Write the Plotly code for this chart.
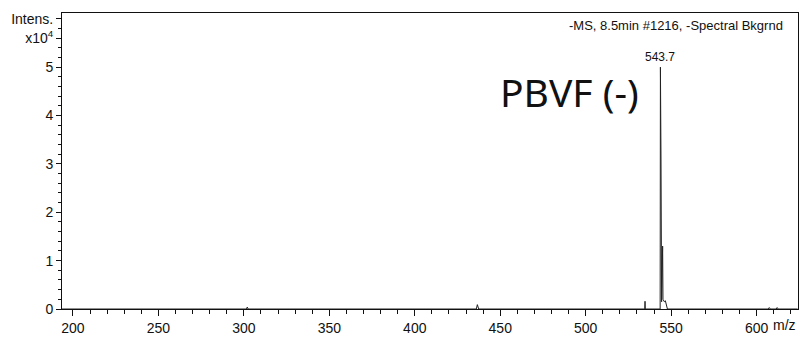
import plotly.graph_objects as go

# Spectrum profile (m/z vs intensity in units of 10^4)
mz = [193.6, 301.5, 302.0, 302.5, 436.0, 436.6, 437.4, 534.55, 534.7, 534.85,
      543.55, 543.7, 543.9, 544.05, 544.4, 545.0, 545.2, 546.0, 546.6, 547.2, 547.8,
      606.8, 607.4, 608.0, 611.4, 612.0, 612.6, 624.0]
intensity = [0, 0, 0.04, 0, 0, 0.09, 0, 0, 0.16, 0,
             0, 5.0, 4.4, 3.1, 0.15, 1.3, 0.2, 0.15, 0.17, 0.05, 0,
             0, 0.03, 0, 0, 0.03, 0, 0]

x_range = [193.6, 624.2]
y_range = [0, 6.12]
x_ticks = [200, 250, 300, 350, 400, 450, 500, 550, 600]
y_tickvals = [0, 1, 2, 3, 4, 5, 5.6, 6.0]
y_ticktext = ["0", "1", "2", "3", "4", "5", "x10<sup>4</sup>", "Intens."]

peak_label = "543.7"
peak_mz = 543.7
peak_int = 5.0
title_text = "-MS, 8.5min #1216, -Spectral Bkgrnd"
sample_text = "PBVF (-)"

FONT = "Liberation Sans, Arial, sans-serif"

fig = go.Figure()
fig.add_trace(go.Scatter(x=mz, y=intensity, mode="lines",
                         line=dict(color="#222222", width=1),
                         hoverinfo="x+y", showlegend=False))

fig.add_annotation(x=peak_mz, y=peak_int, text=peak_label, showarrow=False,
                   yshift=1, font=dict(family=FONT, size=12, color="#111"),
                   xanchor="center", yanchor="bottom")
fig.add_annotation(x=0.982, y=0.99, xref="paper", yref="paper", text=title_text,
                   showarrow=False, xanchor="right", yanchor="top",
                   font=dict(family=FONT, size=13, color="#111"))
fig.add_annotation(x=0.689, y=0.735, xref="paper", yref="paper", text=sample_text,
                   showarrow=False, xanchor="center", yanchor="middle",
                   font=dict(family="Noto Sans, Open Sans, sans-serif", size=39, color="#111"))
fig.add_annotation(x=1.0, y=0, xref="paper", yref="paper", text="m/z",
                   showarrow=False, xanchor="right", yanchor="middle", yshift=-16,
                   font=dict(family=FONT, size=14, color="#111"))

fig.update_layout(
    width=800, height=337,
    margin=dict(l=62, r=2, t=13, b=28, autoexpand=False),
    paper_bgcolor="white", plot_bgcolor="white",
    font=dict(family=FONT, size=14, color="#111"),
)
fig.update_xaxes(range=x_range, tickvals=x_ticks, ticks="outside", ticklen=6,
                 tickcolor="#111", showline=True, linecolor="#111", linewidth=1,
                 mirror=True, showgrid=False, zeroline=False, automargin=False,
                 minor=dict(dtick=10, tick0=200, ticks="outside", ticklen=4, tickcolor="#111"),
                 tickfont=dict(family=FONT, size=14))
fig.update_yaxes(range=y_range, tickvals=y_tickvals, ticktext=y_ticktext,
                 ticks="outside", ticklen=5, tickcolor="#111",
                 showline=True, linecolor="#111", linewidth=1, mirror=True,
                 showgrid=False, zeroline=False, automargin=False,
                 minor=dict(dtick=0.2, tick0=0, ticks="outside", ticklen=3, tickcolor="#111"),
                 tickfont=dict(family=FONT, size=14))

fig.write_html("out.html", config={"displayModeBar": False})

# remove the default page margin so the figure sits at the window's top-left corner
with open("out.html", "r", encoding="utf-8") as f:
    html = f.read()
html = html.replace("<head>", "<head><style>html,body{margin:0;padding:0;overflow:hidden;}</style>", 1)
with open("out.html", "w", encoding="utf-8") as f:
    f.write(html)
